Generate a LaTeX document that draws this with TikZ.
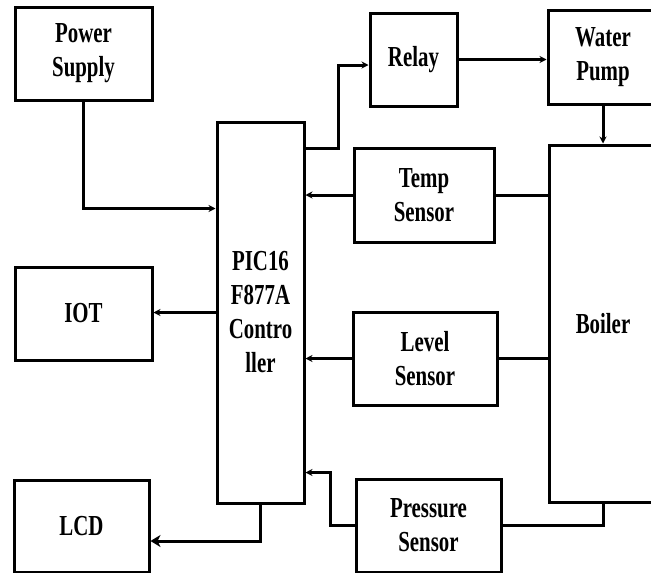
\documentclass[tikz,border=0pt]{standalone}
\usepackage{fontspec}
\setmainfont{Liberation Serif}[FakeStretch=0.72]
\usetikzlibrary{arrows.meta,calc}
\begin{document}
\begin{tikzpicture}[x=1pt,y=-1pt,
  box/.style={draw, line width=3pt, inner sep=0pt, align=center,
    font=\fontsize{29}{34}\selectfont\bfseries},
  conn/.style={line width=3pt},
  arr/.style={conn, -{Stealth[length=7pt,width=7pt]}},
  bigarr/.style={conn, -{Stealth[length=10pt,width=12pt,inset=3pt]}}]
\useasboundingbox (0,0) rectangle (651,573);
\clip (0,0) rectangle (651,573);
\fill[white] (0,0) rectangle (651,573);
% boxes
\node[box, minimum width=137pt, minimum height=93pt] (ps) at (83.5,53.5) {Power\\Supply};
\node[box, minimum width=87pt, minimum height=381pt] (ctrl) at (260.5,312.5) {PIC16\\F877A\\Contro\\ller};
\node[box, minimum width=87pt, minimum height=93pt] (relay) at (413.5,59.5) {Relay};
\node[box, minimum width=110pt, minimum height=94pt] (pump) at (603,57) {Water\\Pump};
\node[box, minimum width=140pt, minimum height=94pt] (temp) at (424,195) {Temp\\Sensor};
\node[box, minimum width=108pt, minimum height=357pt] (boiler) at (603,323.5) {Boiler};
\node[box, minimum width=137pt, minimum height=93pt] (iot) at (83.5,313.5) {IOT};
\node[box, minimum width=144pt, minimum height=93pt] (level) at (425,358.5) {Level\\Sensor};
\node[box, minimum width=135pt, minimum height=92pt] (lcd) at (81.5,526) {LCD};
\node[box, minimum width=145pt, minimum height=93pt] (press) at (428.5,525.5) {Pressure\\Sensor};
% connectors
\draw[arr] (ps.south) |- ([yshift=-88pt]ctrl.north west);
\draw[arr] ([yshift=-28pt]ctrl.north east) -- ++(33,0) |- ([yshift=-5.5pt]relay.west);
\draw[arr] (relay.east) -- (relay.east -| pump.west);
\draw[arr] (pump.south) -- (pump.south |- boiler.north);
\draw[arr] (temp.west) -- (temp.west -| ctrl.east);
\draw[conn] (temp.east) -- (temp.east -| boiler.west);
\draw[arr] (level.west) -- (level.west -| ctrl.east);
\draw[conn] (level.east) -- (level.east -| boiler.west);
\draw[conn] (press.east) -| (boiler.south);
\draw[arr] (press.west) -- ++(-24,0) |- ([yshift=32pt]ctrl.south east);
\draw[arr] (ctrl.west) -- (ctrl.west -| iot.east);
\draw[bigarr] (ctrl.south) |- ([yshift=-15pt]lcd.east);
\end{tikzpicture}
\end{document}
